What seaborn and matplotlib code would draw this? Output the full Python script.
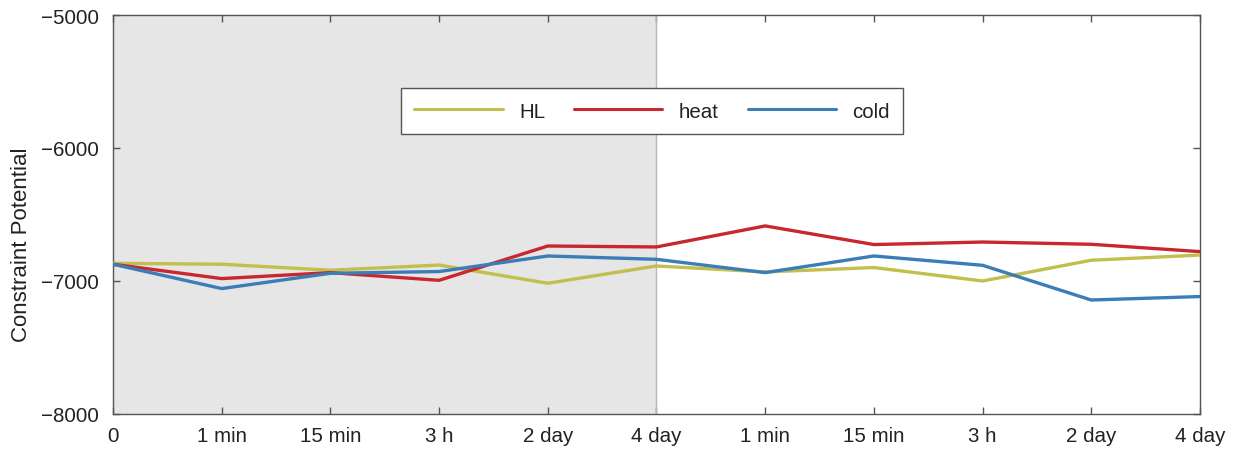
import matplotlib
matplotlib.use("Agg")
import matplotlib.pyplot as plt
import seaborn as sns
import pandas as pd
import numpy as np

# Time points: a first treatment phase (shaded) followed by recovery
tick_labels = ["0", "1 min", "15 min", "3 h", "2 day", "4 day",
               "1 min", "15 min", "3 h", "2 day", "4 day"]

hl_values = [-6867, -6874, -6919, -6880, -7017, -6887,
             -6932, -6899, -7000, -6844, -6805]
heat_values = [-6874, -6982, -6937, -6995, -6737, -6744,
               -6586, -6726, -6707, -6724, -6779]
cold_values = [-6874, -7057, -6942, -6929, -6812, -6837,
               -6937, -6812, -6882, -7143, -7117]

series_names = ["HL", "heat", "cold"]
series_colors = ["#c3bf4e", "#c8272f", "#3b7db6"]

positions = np.arange(len(tick_labels))
df = pd.concat([
    pd.DataFrame({"step": positions, "value": vals, "condition": name})
    for name, vals in zip(series_names, [hl_values, heat_values, cold_values])
], ignore_index=True)

sns.set_theme(style="white")
plt.rcParams["font.family"] = ["Liberation Sans", "DejaVu Sans"]

fig = plt.figure(figsize=(12.34, 4.52), dpi=100)
ax = fig.add_axes([0.0916, 0.0819, 0.8808, 0.8827])

# shaded stress phase
ax.axvspan(0, 5, color="#e6e6e6", zorder=0, lw=0)
ax.axvline(5, color="#b8b8b8", lw=1.0, zorder=1)

sns.lineplot(data=df, x="step", y="value", hue="condition",
             hue_order=series_names, palette=series_colors,
             linewidth=2.4, ax=ax, legend=True, zorder=3)

ax.set_xlim(0, 10)
ax.set_ylim(-8000, -5000)
ax.set_xticks(positions)
ax.set_xticklabels(tick_labels)
ax.set_yticks([-8000, -7000, -6000, -5000])
ax.set_yticklabels(["\u22128000", "\u22127000", "\u22126000", "\u22125000"])
ax.set_xlabel("")
ax.set_ylabel("Constraint Potential", fontsize=16, color="#222222")
ax.yaxis.set_label_coords(-0.0745, 0.426)

ax.tick_params(axis="both", direction="in", length=5, width=1,
               color="#555555", labelsize=14.8, labelcolor="#222222",
               top=True, right=True, bottom=True, left=True)
ax.tick_params(axis="y", pad=10)
ax.tick_params(axis="x", pad=9)
for side in ["left", "right", "top", "bottom"]:
    ax.spines[side].set_visible(True)
    ax.spines[side].set_color("#555555")
    ax.spines[side].set_linewidth(1.0)

handles, labels = ax.get_legend_handles_labels()
for h in handles:
    h.set_linewidth(2.2)
leg = ax.legend(handles, labels, ncol=3, loc="center",
                bbox_to_anchor=(0.496, 0.759), fontsize=14.8,
                handlelength=4.3, handletextpad=0.8, columnspacing=1.4,
                frameon=True, fancybox=False, borderpad=0.65,
                edgecolor="#555555")
leg.get_frame().set_linewidth(1.0)
leg.get_frame().set_facecolor("white")
leg.get_frame().set_alpha(1.0)
for t in leg.get_texts():
    t.set_color("#222222")

fig.savefig("out.png", dpi=100, facecolor="white")
